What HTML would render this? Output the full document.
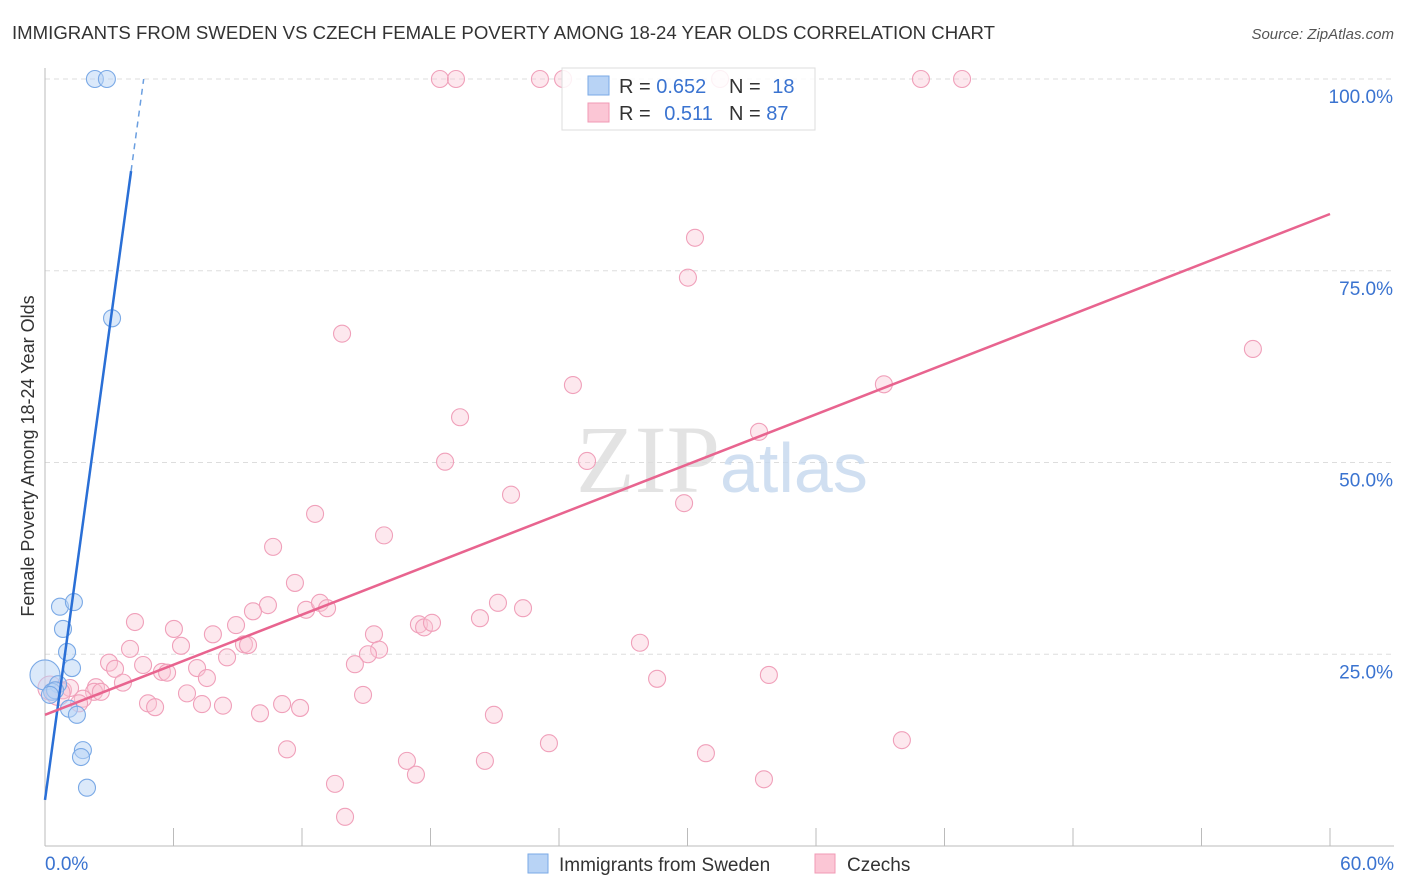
<!DOCTYPE html>
<html><head><meta charset="utf-8"><style>
body{margin:0;background:#fff;font-family:"Liberation Sans",sans-serif;}
svg{display:block}
</style></head><body>
<svg id="chart" width="1406" height="892">
<text x="12" y="39" font-size="18" fill="#333" textLength="983" lengthAdjust="spacingAndGlyphs">IMMIGRANTS FROM SWEDEN VS CZECH FEMALE POVERTY AMONG 18-24 YEAR OLDS CORRELATION CHART</text>
<text x="1394" y="39" font-size="15" fill="#555" font-style="italic" text-anchor="end">Source: ZipAtlas.com</text>
<text x="34" y="456" font-size="18" fill="#333" text-anchor="middle" transform="rotate(-90 34 456)">Female Poverty Among 18-24 Year Olds</text>
<g id="grid"></g>
<text x="720" y="492" font-size="96" fill="#ddd" font-family="Liberation Serif,serif" text-anchor="end" opacity="0.8">ZIP</text>
<text x="720" y="492" font-size="70" fill="#c5d8ee" opacity="0.8">atlas</text>
<g id="pts"></g>
<g id="lines"></g>
<g>
<rect x="562" y="68" width="253" height="62" fill="#fff" fill-opacity="0.85" stroke="#ddd"/>
<rect x="588" y="76" width="21" height="19" fill="#b8d3f5" stroke="#7aa9e6"/>
<rect x="588" y="103" width="21" height="19" fill="#fbc6d5" stroke="#f09ab5"/>
<text x="619" y="93" font-size="20" fill="#333">R = <tspan fill="#3a73d0">0.652</tspan></text>
<text x="729" y="93" font-size="20" fill="#333">N = <tspan fill="#3a73d0" dx="6">18</tspan></text>
<text x="619" y="120" font-size="20" fill="#333">R = <tspan fill="#3a73d0" dx="8">0.511</tspan></text>
<text x="729" y="120" font-size="20" fill="#333">N = <tspan fill="#3a73d0">87</tspan></text>
</g>
<g>
<rect x="528" y="854" width="20" height="19" fill="#b8d3f5" stroke="#7aa9e6"/>
<text x="559" y="871" font-size="19" fill="#333">Immigrants from Sweden</text>
<rect x="815" y="854" width="20" height="19" fill="#fbc6d5" stroke="#f09ab5"/>
<text x="847" y="871" font-size="19" fill="#333">Czechs</text>
</g>
</svg>
<script>
const yTicks=[25,50,75,100];
const xTickLabels=["0.0%","60.0%"];
const blueX=[2.33,2.89,3.13,0.70,1.35,0.84,1.03,1.26,0,0.61,0.33,0.47,1.12,1.49,1.77,1.68,1.96,0.23];
const blueY=[100,100,68.8,31.2,31.8,28.3,25.3,23.2,22.3,21.1,20.1,20.3,17.9,17.1,12.5,11.6,7.6,19.7];
const pinkX=[18.44,19.19,23.11,24.19,31.52,40.90,42.82,30.35,30.02,13.87,56.40,24.65,39.17,19.38,33.34,18.68,25.31,21.76,29.84,12.61,15.83,10.65,11.67,10.41,9.71,12.19,12.84,13.17,21.15,22.32,20.31,17.46,17.70,18.07,4.20,6.02,7.84,8.92,15.36,27.78,6.35,9.29,9.48,3.97,15.60,15.08,8.50,4.58,2.99,14.47,7.10,3.27,5.46,5.70,7.56,3.64,33.80,28.58,2.38,0.84,1.17,2.29,6.63,2.61,1.77,14.85,4.81,5.14,7.33,8.31,11.07,11.91,10.04,20.96,1.59,23.53,40.01,11.30,30.86,16.90,20.54,17.32,33.57,13.54,14.01,0.23,0.61];
const pinkY=[100,100,100,100,100,100,100,79.3,74.1,66.8,64.8,60.1,60.2,55.9,54.0,50.1,50.2,45.8,44.7,43.3,40.5,39.0,34.3,31.4,30.6,30.8,31.7,31.0,31.7,31.0,29.7,28.9,28.5,29.1,29.2,28.3,27.6,28.8,27.6,26.5,26.1,26.3,26.2,25.7,25.6,25.0,24.6,23.6,23.9,23.7,23.2,23.1,22.7,22.6,21.9,21.3,22.3,21.8,20.7,20.3,20.6,20.1,19.9,20.1,19.2,19.7,18.6,18.1,18.5,18.3,18.5,18.0,17.3,17.1,18.6,13.4,13.8,12.6,12.1,11.1,11.1,9.3,8.7,8.1,3.8,20.6,19.9];
const blueFit=[6.0,20.4]; // intercept, slope
const pinkFit=[17.1,82.4]; // y at x=0, y at x=60
const X=v=>45+v/60*1285, Y=v=>846-v*7.67;
const NS="http://www.w3.org/2000/svg";
function mk(t,a,p){const e=document.createElementNS(NS,t);for(const k in a)e.setAttribute(k,a[k]);p.appendChild(e);return e;}
const g=document.getElementById('grid');
yTicks.forEach(t=>{
 const l=mk('line',{x1:45,x2:1394,y1:Y(t),y2:Y(t),stroke:'#ddd','stroke-dasharray':'5,4'},g);
 
 
 const tx=mk('text',{x:1393,y:Y(t)+24,'font-size':19,fill:'#3a73d0','text-anchor':'end'},g);
 tx.textContent=t.toFixed(1)+'%';
 
 
});
mk('line',{x1:45,x2:45,y1:68,y2:846,stroke:'#bbb'},g);
mk('line',{x1:45,x2:1394,y1:846,y2:846,stroke:'#bbb'},g);
for(let i=1;i<=10;i++){const x=X(i*6);mk('line',{x1:x,x2:x,y1:828,y2:846,stroke:'#bbb'},g);}
[['start',0],['end',1]].forEach(([a,i])=>{
 const tx=mk('text',{x:i?1394:45,y:870,'font-size':19,fill:'#3a73d0','text-anchor':a},g);
 tx.textContent=xTickLabels[i];
 
 
});
const P=document.getElementById('pts');
pinkX.forEach((x,i)=>{
 const c=mk('circle',{cx:X(x),cy:Y(pinkY[i]),r:i>=85?12:8.5,fill:'#fbc6d5','fill-opacity':0.4,stroke:'#f0a0ba','stroke-width':1.1},P);
 
 
});
blueX.forEach((x,i)=>{
 const c=mk('circle',{cx:X(x),cy:Y(blueY[i]),r:i==8?15:8.5,fill:'#b8d3f5','fill-opacity':0.5,stroke:'#7aa9e6','stroke-width':1.1},P);
 
 
});
const L=document.getElementById('lines');
const bxEnd=(88-blueFit[0])/blueFit[1], bxTop=(100-blueFit[0])/blueFit[1];
const b1=mk('line',{x1:X(0),y1:Y(blueFit[0]),x2:X(bxEnd),y2:Y(88),stroke:'#2a6fd6','stroke-width':2.5},L);


const b2=mk('line',{x1:X(bxEnd),y1:Y(88),x2:X(bxTop),y2:Y(100),stroke:'#6b9fe0','stroke-width':1.5,'stroke-dasharray':'6,5'},L);


const p1=mk('line',{x1:X(0),y1:Y(pinkFit[0]),x2:X(60),y2:Y(pinkFit[1]),stroke:'#e8648f','stroke-width':2.5},L);


</script>
</body></html>
